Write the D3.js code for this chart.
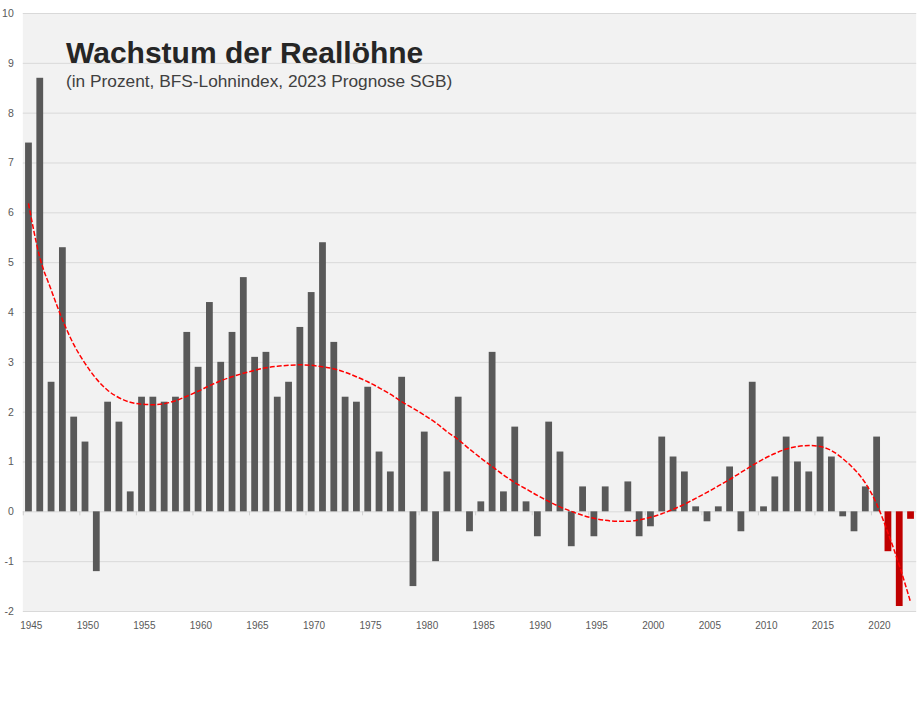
<!DOCTYPE html>
<html>
<head>
<meta charset="utf-8">
<script src="https://cdn.jsdelivr.net/npm/d3@7"></script>
<style>
  html, body { margin: 0; padding: 0; background: #ffffff; }
  svg { display: block; }
  text { font-family: "Liberation Sans", Arial, Helvetica, sans-serif; }
</style>
</head>
<body>
<svg id="chart" width="919" height="702"></svg>
<script>
// ---- Data ----
const years = d3.range(1945, 2024);
const values = [
  7.4, 8.7, 2.6, 5.3, 1.9, 1.4, -1.2, 2.2, 1.8, 0.4,      // 1945-1954
  2.3, 2.3, 2.2, 2.3, 3.6, 2.9, 4.2, 3.0, 3.6, 4.7,       // 1955-1964
  3.1, 3.2, 2.3, 2.6, 3.7, 4.4, 5.4, 3.4, 2.3, 2.2,       // 1965-1974
  2.5, 1.2, 0.8, 2.7, -1.5, 1.6, -1.0, 0.8, 2.3, -0.4,    // 1975-1984
  0.2, 3.2, 0.4, 1.7, 0.2, -0.5, 1.8, 1.2, -0.7, 0.5,     // 1985-1994
  -0.5, 0.5, 0.0, 0.6, -0.5, -0.3, 1.5, 1.1, 0.8, 0.1,    // 1995-2004
  -0.2, 0.1, 0.9, -0.4, 2.6, 0.1, 0.7, 1.5, 1.0, 0.8,     // 2005-2014
  1.5, 1.1, -0.1, -0.4, 0.5, 1.5, -0.8, -1.9, -0.15       // 2015-2023
];
const highlightYears = [2021, 2022, 2023];
// Trend line (polynomial trend), one value per year
const trendValues = [
  6.18, 5.1, 4.45, 3.85, 3.35, 2.97, 2.66, 2.43, 2.28, 2.19,   // 1945-1954
  2.15, 2.14, 2.16, 2.22, 2.31, 2.41, 2.52, 2.62, 2.7, 2.77,   // 1955-1964
  2.83, 2.88, 2.91, 2.93, 2.94, 2.93, 2.9, 2.86, 2.79, 2.7,    // 1965-1974
  2.6, 2.48, 2.35, 2.2, 2.07, 1.93, 1.78, 1.6, 1.44, 1.25,     // 1975-1984
  1.07, 0.9, 0.73, 0.58, 0.45, 0.32, 0.2, 0.09, 0.0, -0.08,    // 1985-1994
  -0.14, -0.18, -0.2, -0.2, -0.17, -0.12, -0.05, 0.04, 0.14, 0.26, // 1995-2004
  0.38, 0.51, 0.64, 0.78, 0.92, 1.05, 1.16, 1.25, 1.3, 1.32,   // 2005-2014
  1.3, 1.22, 1.06, 0.85, 0.57, 0.15, -0.43, -1.08, -1.82       // 2015-2023
];
const yTicks = [-2, -1, 0, 1, 2, 3, 4, 5, 6, 7, 8, 9, 10];
const xTickYears = [1945, 1950, 1955, 1960, 1965, 1970, 1975, 1980, 1985, 1990, 1995, 2000, 2005, 2010, 2015, 2020];
const titleText = "Wachstum der Reallöhne";
const subtitleText = "(in Prozent, BFS-Lohnindex, 2023 Prognose SGB)";

// ---- Layout ----
const svg = d3.select("#chart");
const plotLeft = 22.8, plotRight = 916.2, plotTop = 13, plotBottom = 611;

const x = d3.scaleBand().domain(years).range([plotLeft, plotRight]).paddingInner(0.4).paddingOuter(0.2);
const xEdge = d3.scaleLinear().domain([1945, 2024]).range([plotLeft, plotRight]);
const y = d3.scaleLinear().domain([-2, 10]).range([plotBottom, plotTop]);

// plot background
svg.append("rect")
  .attr("x", plotLeft).attr("y", plotTop)
  .attr("width", plotRight - plotLeft).attr("height", plotBottom - plotTop)
  .attr("fill", "#f2f2f2");

// y axis with gridlines
const yAxis = svg.append("g")
  .attr("transform", `translate(${plotLeft},0)`)
  .call(d3.axisLeft(y).tickValues(yTicks).tickSize(-(plotRight - plotLeft)).tickPadding(9).tickFormat(d => String(d)));
yAxis.select(".domain").remove();
yAxis.selectAll(".tick line").attr("stroke", "#d9d9d9").attr("stroke-width", 1);
yAxis.selectAll(".tick text")
  .attr("fill", "#595959")
  .style("font-size", "10.5px")
  .style("font-family", "'Liberation Sans', Arial, sans-serif");

// bars
svg.append("g").selectAll("rect")
  .data(years.map((yr, i) => ({ year: yr, value: values[i] })))
  .join("rect")
  .attr("x", d => x(d.year))
  .attr("width", x.bandwidth())
  .attr("y", d => y(Math.max(0, d.value)))
  .attr("height", d => Math.abs(y(d.value) - y(0)))
  .attr("fill", d => highlightYears.includes(d.year) ? "#c00000" : "#595959");

// x axis at zero
const xAxis = svg.append("g")
  .attr("transform", `translate(0,${y(0)})`)
  .call(d3.axisBottom(xEdge).tickValues(xTickYears).tickSize(4).tickFormat(d => String(d)));
xAxis.select(".domain").remove();
xAxis.selectAll(".tick line").attr("stroke", "#d0d0d0");
xAxis.selectAll(".tick text").remove();

// x labels at the bottom
svg.append("g").selectAll("text")
  .data(xTickYears)
  .join("text")
  .attr("x", d => xEdge(d) + 8.5)
  .attr("y", 629)
  .attr("text-anchor", "middle")
  .attr("fill", "#595959")
  .style("font-size", "10px")
  .text(d => d);

// trend line
const line = d3.line()
  .x((d, i) => x(years[i]) + x.bandwidth() / 2)
  .y(d => y(d))
  .curve(d3.curveMonotoneX);
svg.append("path")
  .datum(trendValues)
  .attr("d", line)
  .attr("fill", "none")
  .attr("stroke", "#ff0000")
  .attr("stroke-width", 1.5)
  .attr("stroke-dasharray", "5,2");

// titles
svg.append("text")
  .attr("x", 66).attr("y", 63)
  .attr("fill", "#262626")
  .style("font-size", "30px")
  .style("font-weight", "bold")
  .text(titleText);
svg.append("text")
  .attr("x", 66).attr("y", 87)
  .attr("fill", "#404040")
  .style("font-size", "17.3px")
  .text(subtitleText);
</script>
</body>
</html>
